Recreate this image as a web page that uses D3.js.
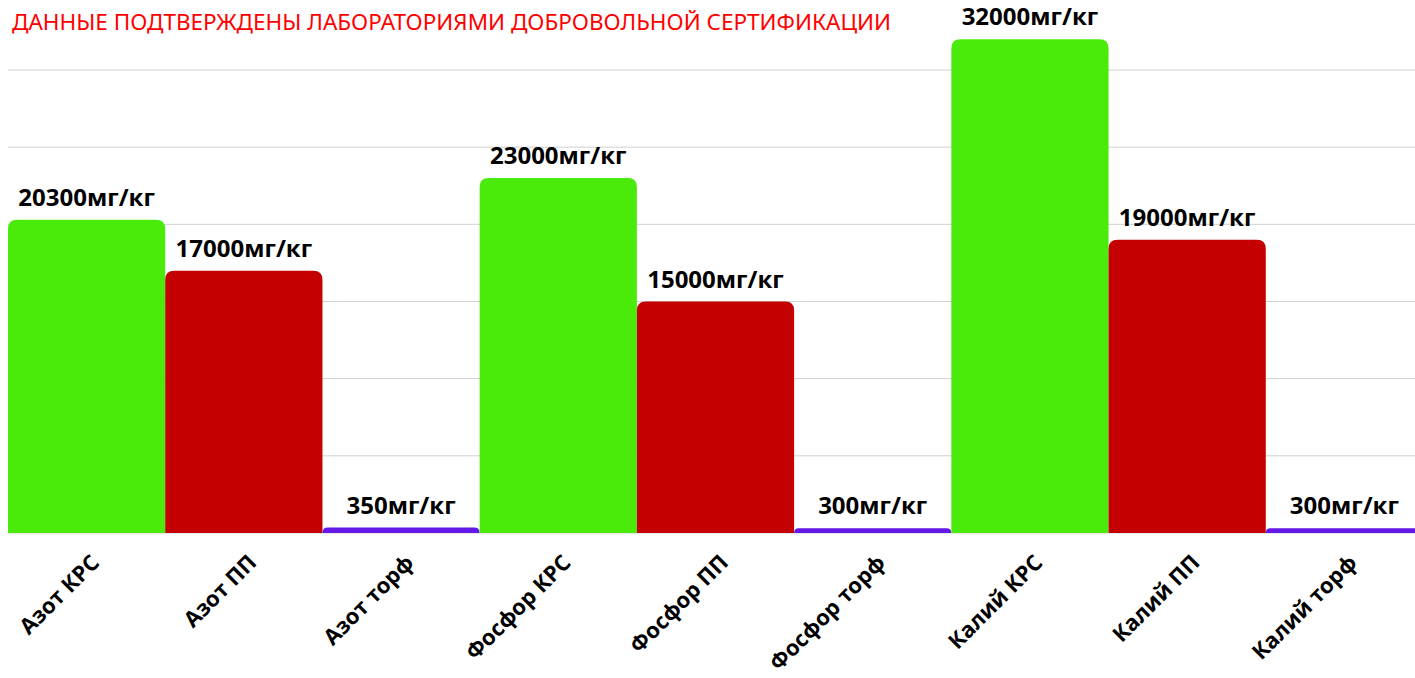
<!DOCTYPE html>
<html>
<head>
<meta charset="utf-8">
<script src="https://cdn.jsdelivr.net/npm/d3@7"></script>
<style>
  body { margin: 0; background: #fff; }
  svg { display: block; }
</style>
</head>
<body>
<div id="chart"></div>
<script>
// data
const categories = ["Азот КРС", "Азот ПП", "Азот торф",
                    "Фосфор КРС", "Фосфор ПП", "Фосфор торф",
                    "Калий КРС", "Калий ПП", "Калий торф"];
const values = [20300, 17000, 350, 23000, 15000, 300, 32000, 19000, 300];
const kinds = ["КРС", "ПП", "торф", "КРС", "ПП", "торф", "КРС", "ПП", "торф"];
const gridTicks = [0, 5000, 10000, 15000, 20000, 25000, 30000];
const unit = "мг/кг";
const title = "ДАННЫЕ ПОДТВЕРЖДЕНЫ ЛАБОРАТОРИЯМИ ДОБРОВОЛЬНОЙ СЕРТИФИКАЦИИ";

const W = 1415, H = 678;
const margin = { top: 70, bottom: 145, left: 8 };
const innerW = 1415; // last bar runs off the right edge
const innerH = H - margin.top - margin.bottom;

const svg = d3.select("#chart").append("svg")
    .attr("width", W).attr("height", H);

// title
svg.append("text")
    .attr("x", 12).attr("y", 30)
    .attr("fill", "#ff0000")
    .style("font-family", "'Noto Sans', sans-serif")
    .style("font-size", "22.5px")
    .text(title);

const g = svg.append("g").attr("transform", `translate(${margin.left},${margin.top})`);

const x = d3.scaleBand().domain(categories).range([0, innerW]).padding(0);
const y = d3.scaleLinear().domain([0, 30000]).range([innerH, 0]);

const color = d3.scaleOrdinal()
    .domain(["КРС", "ПП", "торф"])
    .range(["#4aeb0a", "#c40000", "#6418e8"]);

// grid
g.selectAll("line.grid").data(gridTicks).join("line")
    .attr("class", "grid")
    .attr("x1", 0).attr("x2", W)
    .attr("y1", d => y(d)).attr("y2", d => y(d))
    .attr("stroke", "#d0d0d0").attr("stroke-width", 1);

// bars with rounded top corners
function topRounded(x0, y0, w, h, r) {
    r = Math.min(r, h, w / 2);
    return `M${x0},${y0 + h}V${y0 + r}Q${x0},${y0} ${x0 + r},${y0}H${x0 + w - r}Q${x0 + w},${y0} ${x0 + w},${y0 + r}V${y0 + h}Z`;
}

g.selectAll("path.bar").data(values).join("path")
    .attr("class", "bar")
    .attr("fill", (d, i) => color(kinds[i]))
    .attr("d", (d, i) => topRounded(x(categories[i]), y(d), x.bandwidth(), innerH - y(d), 9));

// value labels
g.selectAll("text.val").data(values).join("text")
    .attr("class", "val")
    .attr("x", (d, i) => x(categories[i]) + x.bandwidth() / 2)
    .attr("y", d => y(d) - 14)
    .attr("text-anchor", "middle")
    .style("font-family", "'Open Sans', sans-serif")
    .style("font-weight", "bold")
    .style("font-size", "24px")
    .attr("fill", "#000")
    .text(d => d + unit);

// x axis labels
const xa = g.append("g").attr("transform", `translate(0,${innerH})`)
    .call(d3.axisBottom(x).tickSize(0).tickPadding(0));
xa.select(".domain").remove();
xa.selectAll("text")
    .style("font-family", "'Open Sans', sans-serif")
    .style("font-weight", "bold")
    .style("font-size", "22px")
    .attr("fill", "#000")
    .attr("text-anchor", "end")
    .attr("dy", null)
    .attr("y", 0)
    .attr("transform", "translate(14,31) rotate(-45)");
</script>
</body>
</html>
